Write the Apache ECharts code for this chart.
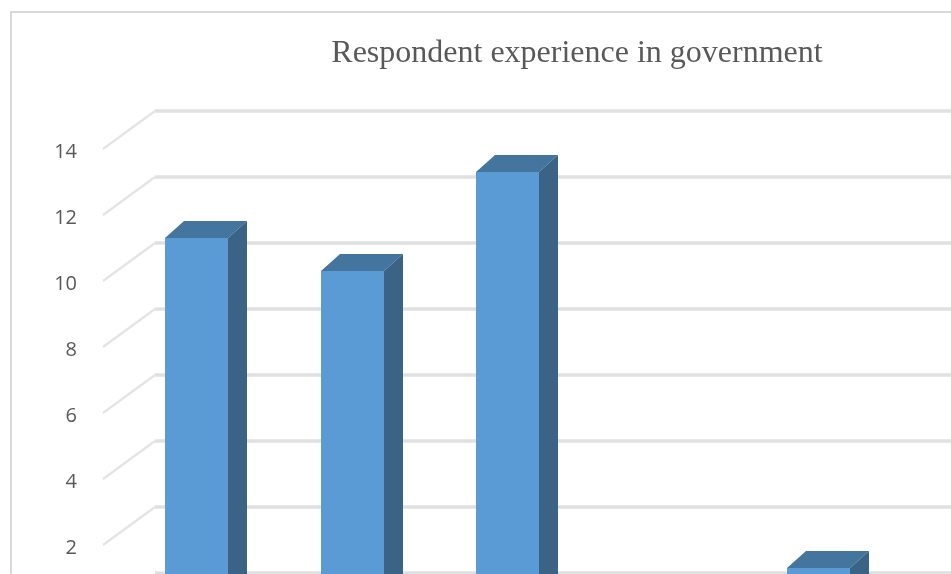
<!DOCTYPE html>
<html>
<head>
<meta charset="utf-8">
<style>html,body{margin:0;padding:0;background:#fff}#c{width:951px;height:574px}</style>
<script src="https://cdn.jsdelivr.net/npm/echarts@6/dist/echarts.min.js"></script>
</head>
<body>
<div id="c"></div>
<script>
const titleText = 'Respondent experience in government';
const categories = ['Group 1', 'Group 2', 'Group 3', 'Group 4', 'Group 5', 'Group 6'];
const values = [11, 10, 13, 0, 1, 0];
const wallTicks = [2, 4, 6, 8, 10, 12, 14];

const FRONT_DX = -36.25, FRONT_DY = 28, DEPTH_X = 19, DEPTH_Y = -17, BAR_RATIO = 0.405;
const WALL_DX = -52, WALL_DY = 38;

function barItem(params, api) {
  const i = api.value(0), v = api.value(1);
  if (!v) return null;
  const top = api.coord([i, v]), base = api.coord([i, 0]);
  const w = api.size([1, 0])[0] * BAR_RATIO;
  const x0 = Math.round(top[0] + FRONT_DX - w / 2), x1 = x0 + Math.round(w);
  const y0 = Math.round(top[1] + FRONT_DY), y1 = Math.round(base[1] + FRONT_DY);
  const poly = (pts, fill) => ({ type: 'polygon', shape: { points: pts }, style: { fill: fill, stroke: null } });
  return {
    type: 'group',
    children: [
      poly([[x0, y0], [x0 + DEPTH_X, y0 + DEPTH_Y], [x1 + DEPTH_X, y0 + DEPTH_Y], [x1, y0]], '#44759f'),
      poly([[x1, y0], [x1 + DEPTH_X, y0 + DEPTH_Y], [x1 + DEPTH_X, y1 + DEPTH_Y], [x1, y1]], '#3a6386'),
      { type: 'rect', shape: { x: x0, y: y0, width: x1 - x0, height: y1 - y0 }, style: { fill: '#5b9bd5' } }
    ]
  };
}

function wallItem(params, api) {
  const v = api.value(0);
  const p = api.coord([0, v]);
  const x = params.coordSys.x, y = p[1];
  return {
    type: 'line',
    shape: { x1: x, y1: y, x2: x + WALL_DX, y2: y + WALL_DY },
    style: { stroke: '#e4e4e4', lineWidth: 2.2, fill: null }
  };
}

const chart = echarts.init(document.getElementById('c'), null, { renderer: 'canvas' });
chart.setOption({
  animation: false,
  backgroundColor: '#ffffff',
  title: {
    text: titleText,
    left: 572,
    top: 33,
    textAlign: 'center',
    textStyle: { fontFamily: 'Liberation Serif', fontSize: 32, fontWeight: 'normal', color: '#595959' }
  },
  graphic: [{
    type: 'rect', silent: true, z: -1,
    shape: { x: 11, y: 12, width: 1100, height: 700 },
    style: { fill: null, stroke: '#d9d9d9', lineWidth: 2 }
  }],
  grid: [
    { left: 155, top: 111, width: 933, height: 462, outerBoundsMode: 'none' },
    { left: 77, top: 152, width: 100, height: 462, outerBoundsMode: 'none' }
  ],
  xAxis: [
    { type: 'category', gridIndex: 0, data: categories, show: false },
    { type: 'category', gridIndex: 1, data: categories, show: false }
  ],
  yAxis: [
    { type: 'value', gridIndex: 0, min: 0, max: 14, interval: 2,
      axisLine: { show: false }, axisTick: { show: false }, axisLabel: { show: false },
      splitLine: { show: true, lineStyle: { color: '#e0e0e0', width: 3.5 } } },
    { type: 'value', gridIndex: 1, min: 0, max: 14, interval: 2,
      axisLine: { show: false }, axisTick: { show: false },
      axisLabel: { margin: 0, fontFamily: 'Open Sans', fontSize: 20, color: '#595959' },
      splitLine: { show: false } }
  ],
  series: [
    { type: 'custom', name: 'wall', xAxisIndex: 0, yAxisIndex: 0, clip: false, silent: true, z: 2,
      encode: { y: 0 }, data: wallTicks.map(v => [v]), renderItem: wallItem },
    { type: 'custom', name: 'Respondents', xAxisIndex: 0, yAxisIndex: 0, clip: false, silent: true, z: 3,
      encode: { x: 0, y: 1 }, data: values.map((v, i) => [i, v]), renderItem: barItem }
  ]
});
</script>
</body>
</html>
